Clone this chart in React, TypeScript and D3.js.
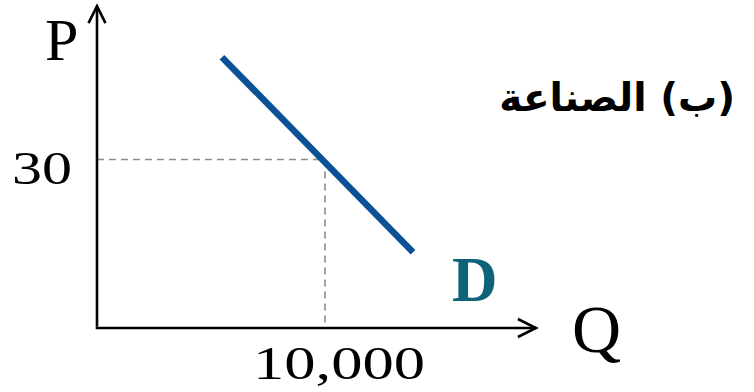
import * as d3 from 'd3';

// demand curve (Q, P) end points
const demandQ = [5480, 13860];
const demandP = [48.2, 13.5];

// marked equilibrium
const markQ = [10000];
const markP = [30];
const qTickLabels = ["10,000"];
const pTickLabels = ["30"];

// axis extents (arrow tips)
const axisMaxQ = [19250];
const axisMaxP = [57.3];

const axisLabels = ["P", "Q"];
const curveLabel = ["D"];
const title = ["(ب) الصناعة"];

const width = 754;
const height = 392;

export default function App() {
  const x = d3.scaleLinear().domain([0, 10000]).range([97, 325]);
  const y = d3.scaleLinear().domain([0, 30]).range([328, 159.5]);

  const line = d3.line<[number, number]>()
    .x(d => x(d[0]))
    .y(d => y(d[1]));

  const demand: [number, number][] = demandQ.map((q, i) => [q, demandP[i]]);

  const x0 = x(0), y0 = y(0);
  const xTip = x(axisMaxQ[0]);
  const yTip = y(axisMaxP[0]);
  const serif = "'Liberation Serif', 'DejaVu Serif', serif";

  return (
    <svg width={width} height={height} style={{ position: 'absolute', left: 0, top: 0, background: '#fff' }}>
      {/* dashed guides */}
      {markQ.map((q, i) => (
        <g key={i} stroke="#8c8c8c" strokeWidth={1.6} strokeDasharray="7,5" fill="none">
          <line x1={x0} x2={x(q)} y1={y(markP[i])} y2={y(markP[i])} />
          <line x1={x(q)} x2={x(q)} y1={y(markP[i])} y2={y0} />
        </g>
      ))}

      {/* axes */}
      <g stroke="#000" strokeWidth={2.6} fill="none">
        <path d={`M${x0},${y0 - 1.3}V${yTip}`} />
        <path d={`M${x0 - 8.5},${yTip + 17}L${x0},${yTip}L${x0 + 8.5},${yTip + 17}`} strokeLinejoin="miter" />
        <path d={`M${x0 - 1.3},${y0}H${xTip}`} />
        <path d={`M${xTip - 18},${y0 - 9}L${xTip},${y0}L${xTip - 18},${y0 + 9}`} />
      </g>

      {/* demand */}
      <path d={line(demand) ?? ''} stroke="#0b5196" strokeWidth={6.5} fill="none" />

      {/* text */}
      <text x={45} y={60} fontFamily={serif} fontSize={60} fill="#000">{axisLabels[0]}</text>
      <text x={572} y={352} fontFamily={serif} fontSize={68} fill="#000">{axisLabels[1]}</text>
      <text x={452} y={301} fontFamily={serif} fontWeight="bold" fontSize={63} fill="#0e6378">{curveLabel[0]}</text>

      {pTickLabels.map((t, i) => (
        <text key={t} x={12} y={y(markP[i]) + 24} fontFamily={serif} fontSize={46}
          textLength={60} lengthAdjust="spacingAndGlyphs" fill="#000">{t}</text>
      ))}
      {qTickLabels.map((t, i) => (
        <text key={t} x={x(markQ[i]) - 72} y={379} fontFamily={serif} fontSize={46}
          textLength={172} lengthAdjust="spacingAndGlyphs" fill="#000">{t}</text>
      ))}

      <text x={735} y={111} direction="rtl" textAnchor="start" fontFamily="'DejaVu Sans', sans-serif"
        fontWeight="bold" fontSize={39} fill="#000">{title[0]}</text>
    </svg>
  );
}
